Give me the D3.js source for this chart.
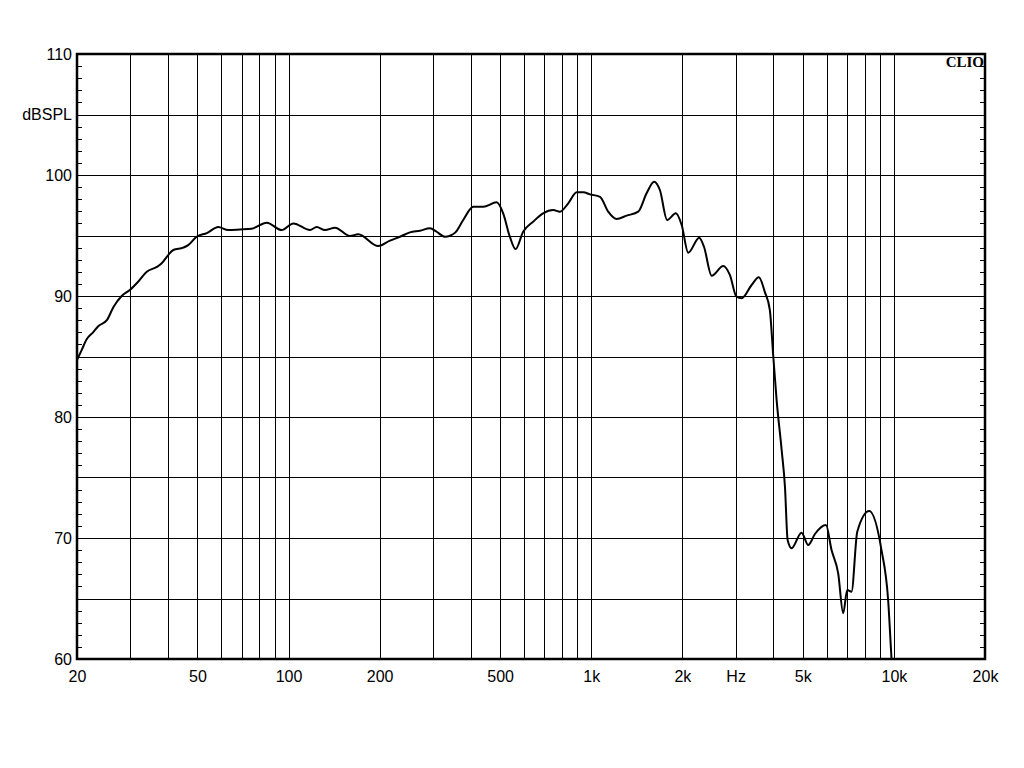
<!DOCTYPE html>
<html>
<head>
<meta charset="utf-8">
<script src="https://cdn.jsdelivr.net/npm/d3@7"></script>
<style>
  body { margin: 0; background: #fff; }
</style>
</head>
<body>
<div id="chart"></div>
<script>
// frequency response data
var freqs = [20, 20.7, 21.5, 22.6, 23.5, 25.1, 26.4, 28.1, 29.9, 31.9, 34.0, 36.7, 38.1, 40.1, 41.6, 44.9, 46.6, 49.7,
  53.7, 58.6, 63.2, 69.1, 75.5, 84.7, 94.9, 103.7, 117.7, 123.9, 131.9, 142.4, 159.5, 170, 197.8, 216.2, 233.4,
  251.8, 271.8, 293.2, 308.4, 328.6, 354.8, 377.6, 407.6, 439.8, 487, 511.8, 538.4, 562.4, 595.8, 642.8, 693.4,
  749, 788.4, 839.6, 895.4, 942, 991, 1069, 1138, 1213, 1309, 1430, 1524, 1614, 1686, 1782, 1904, 1990, 2092,
  2274, 2358, 2500, 2730, 2871, 3020, 3140, 3388, 3580, 3750, 3892, 3992, 4098, 4258, 4366, 4456, 4592, 4954,
  5212, 5484, 5964, 6224, 6546, 6800, 7012, 7244, 7568, 8290, 9100, 9572, 9820, 10000];
var spl = [84.7, 85.5, 86.4, 87.0, 87.5, 88.0, 89.1, 90.0, 90.5, 91.2, 92.0, 92.4, 92.7, 93.4, 93.8, 94.0, 94.2, 94.9,
  95.2, 95.7, 95.45, 95.5, 95.56, 96.06, 95.45, 96.0, 95.45, 95.7, 95.45, 95.65, 94.96, 95.1, 94.13, 94.57, 94.9,
  95.26, 95.4, 95.6, 95.31, 94.9, 95.23, 96.28, 97.38, 97.38, 97.74, 96.83, 94.9, 93.88, 95.31, 96.14, 96.83,
  97.1, 96.97, 97.66, 98.57, 98.57, 98.4, 98.2, 96.97, 96.36, 96.64, 96.97, 98.49, 99.45, 98.76, 96.28, 96.83, 95.87, 93.58,
  94.82, 94.07, 91.68, 92.48, 91.74, 89.94, 89.81, 90.91, 91.55, 90.3, 88.84, 85.12, 81.4, 77.27, 74.24, 69.83, 69.15, 70.44,
  69.42, 70.33, 71.07, 69.0, 67.08, 63.78, 65.7, 65.56, 70.52, 72.23, 69.0, 64.88, 60.06, 57];

var xTickVals = [20, 50, 100, 200, 500, 1000, 2000, 3000, 5000, 10000, 20000];
var xTickLabels = ["20", "50", "100", "200", "500", "1k", "2k", "Hz", "5k", "10k", "20k"];
var yTickVals = [110, 105, 100, 90, 80, 70, 60];
var yTickLabels = ["110", "dBSPL", "100", "90", "80", "70", "60"];

var W = 1024, H = 768;
var plotL = 77, plotR = 985, plotT = 54, plotB = 659;
var sans = '"Liberation Sans", Arial, sans-serif';

var svg = d3.select('#chart').append('svg')
    .attr('width', W)
    .attr('height', H);

svg.append('rect').attr('width', W).attr('height', H).attr('fill', '#fff');

var x = d3.scaleLog().domain([20, 20000]).range([plotL, plotR]);
var y = d3.scaleLinear().domain([60, 110]).range([plotB, plotT]);

// vertical grid: 1-9 in each decade
var vgrid = [];
[10, 100, 1000, 10000].forEach(function(d) {
  for (var k = 1; k <= 9; k++) {
    var f = d * k;
    if (f > 20 && f < 20000) vgrid.push(f);
  }
});
svg.append('g').selectAll('line').data(vgrid).enter().append('line')
    .attr('x1', function(d) { return Math.round(x(d)) + 0.5; })
    .attr('x2', function(d) { return Math.round(x(d)) + 0.5; })
    .attr('y1', plotT).attr('y2', plotB)
    .attr('stroke', '#000').attr('stroke-width', 1);

// horizontal grid every 5 dB
svg.append('g').selectAll('line').data(d3.range(65, 110, 5)).enter().append('line')
    .attr('x1', plotL).attr('x2', plotR)
    .attr('y1', function(d) { return Math.round(y(d)) + 0.5; })
    .attr('y2', function(d) { return Math.round(y(d)) + 0.5; })
    .attr('stroke', '#000').attr('stroke-width', 1);

// small 1 dB ticks on both sides
var minor = d3.range(61, 110, 1);
svg.append('g').selectAll('line').data(minor).enter().append('line')
    .attr('x1', plotL).attr('x2', plotL + 5)
    .attr('y1', function(d) { return Math.round(y(d)) + 0.5; })
    .attr('y2', function(d) { return Math.round(y(d)) + 0.5; })
    .attr('stroke', '#000');
svg.append('g').selectAll('line').data(minor).enter().append('line')
    .attr('x1', plotR - 5).attr('x2', plotR)
    .attr('y1', function(d) { return Math.round(y(d)) + 0.5; })
    .attr('y2', function(d) { return Math.round(y(d)) + 0.5; })
    .attr('stroke', '#000');

// curve
svg.append('clipPath').attr('id', 'clip')
  .append('rect').attr('x', plotL).attr('y', plotT).attr('width', plotR - plotL).attr('height', plotB - plotT);

var pts = freqs.map(function(f, i) { return [f, spl[i]]; });
var line = d3.line()
    .x(function(d) { return x(d[0]); })
    .y(function(d) { return y(d[1]); })
    .curve(d3.curveMonotoneX);

svg.append('path')
    .datum(pts)
    .attr('clip-path', 'url(#clip)')
    .attr('d', line)
    .attr('fill', 'none')
    .attr('stroke', '#000')
    .attr('stroke-width', 2)
    .attr('stroke-linejoin', 'round');

// frame
svg.append('rect')
    .attr('x', plotL).attr('y', plotT)
    .attr('width', plotR - plotL).attr('height', plotB - plotT)
    .attr('fill', 'none')
    .attr('stroke', '#000').attr('stroke-width', 2.5);

// axis labels
var xAxis = d3.axisBottom(x).tickValues(xTickVals)
    .tickFormat(function(d, i) { return xTickLabels[i]; })
    .tickSize(0).tickPadding(12);
var gx = svg.append('g').attr('transform', 'translate(0,' + plotB + ')').call(xAxis);
gx.select('.domain').remove();
gx.selectAll('text').attr('font-size', 16).attr('fill', '#000').attr('font-family', sans);

var yAxis = d3.axisLeft(y).tickValues(yTickVals)
    .tickFormat(function(d, i) { return yTickLabels[i]; })
    .tickSize(0).tickPadding(5);
var gy = svg.append('g').attr('transform', 'translate(' + plotL + ',0)').call(yAxis);
gy.select('.domain').remove();
gy.selectAll('text').attr('font-size', 16).attr('fill', '#000').attr('font-family', sans);

svg.append('text')
    .attr('x', plotR - 1).attr('y', plotT + 13)
    .attr('text-anchor', 'end')
    .attr('font-family', '"Liberation Serif", "Times New Roman", serif')
    .attr('font-weight', 'bold')
    .attr('font-size', 15)
    .text('CLIO');
</script>
</body>
</html>
